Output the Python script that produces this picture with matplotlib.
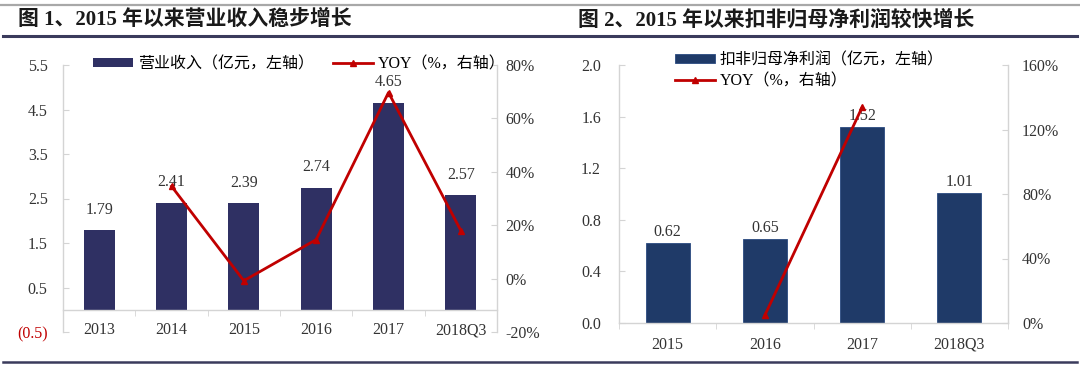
import numpy as np
import matplotlib
matplotlib.use("Agg")
import matplotlib.pyplot as plt
from matplotlib.lines import Line2D

plt.rcParams["font.family"] = ["Liberation Serif", "Noto Sans CJK SC"]

# 图 1 数据
years1 = ["2013", "2014", "2015", "2016", "2017", "2018Q3"]
revenue = [1.79, 2.41, 2.39, 2.74, 4.65, 2.57]
rev_yoy = [np.nan, 34.6, -0.8, 14.6, 69.7, 18.0]

# 图 2 数据
years2 = ["2015", "2016", "2017", "2018Q3"]
profit = [0.62, 0.65, 1.52, 1.01]
profit_yoy = [np.nan, 4.8, 133.8, np.nan]

title1 = "图 1、2015 年以来营业收入稳步增长"
title2 = "图 2、2015 年以来扣非归母净利润较快增长"

BAR1 = "#2f3063"
BAR2 = "#1f3a68"
RED = "#c00000"
SPINE = "#d4d4d4"
TXT = "#333333"
FS = 11.5
W, H = 1080, 366

fig = plt.figure(figsize=(10.8, 3.66), dpi=100)

# 装饰线和标题
fig.add_artist(Line2D([0, 1], [1 - 5 / H] * 2, color="#a8a8a8", lw=1.6))
fig.add_artist(Line2D([0.003, 0.997], [1 - 36 / H] * 2, color="#3a3b5c", lw=2.2))
fig.add_artist(Line2D([0.003, 0.997], [1 - 362 / H] * 2, color="#3a3b5c", lw=1.8))
fig.text(18 / W, 1 - 20 / H, title1, fontsize=15, fontweight="bold",
         va="center", color="#1a1a1a")
fig.text(578 / W, 1 - 20 / H, title2, fontsize=15, fontweight="bold",
         va="center", color="#1a1a1a")


def style(ax, tw, pad_l, pad_r):
    for s in ["top", "right"]:
        ax.spines[s].set_visible(False)
    for s in ["top", "left", "bottom"]:
        tw.spines[s].set_visible(False)
    for a, s in [(ax, "left"), (ax, "bottom"), (tw, "right")]:
        a.spines[s].set_color(SPINE)
        a.spines[s].set_linewidth(1)
    ax.tick_params(axis="y", direction="in", length=4, color=SPINE,
                   labelsize=FS, labelcolor=TXT, pad=pad_l)
    tw.tick_params(axis="y", direction="in", length=4, color=SPINE,
                   labelsize=FS, labelcolor=TXT, pad=pad_r)
    ax.tick_params(axis="x", which="major", length=0, labelsize=FS,
                   labelcolor=TXT)
    ax.tick_params(axis="x", which="minor", direction="out", length=4,
                   color=SPINE)


# ---- 图 1 ----
ax1 = fig.add_axes([63 / W, 1 - 332 / H, (497 - 63) / W, (332 - 65) / H])
tw1 = ax1.twinx()
x1 = np.arange(len(years1))
ax1.bar(x1, revenue, width=0.43, color=BAR1, label="营业收入（亿元，左轴）",
        zorder=2)
for xi, v in zip(x1, revenue):
    ax1.annotate(f"{v:.2f}", (xi, v), xytext=(0, 9), textcoords="offset points",
                 ha="center", va="bottom", fontsize=FS, color=TXT)
tw1.plot(x1, rev_yoy, color=RED, lw=2, marker="^", ms=4,
         label="YOY（%，右轴）", zorder=3)
ax1.set_xlim(-0.5, len(years1) - 0.5)
ax1.set_ylim(-0.5, 5.5)
tw1.set_ylim(-20, 80)
yt1 = np.arange(-0.5, 5.6, 1.0)
ax1.set_yticks(yt1)
ax1.set_yticklabels([f"({abs(v):.1f})" if v < 0 else f"{v:.1f}" for v in yt1])
tw1.set_yticks(np.arange(-20, 81, 20))
tw1.set_yticklabels([f"{v}%" for v in range(-20, 81, 20)])
ax1.set_xticks(x1)
ax1.set_xticklabels(years1)
ax1.set_xticks(np.arange(-0.5, len(years1)), minor=True)
ax1.spines["bottom"].set_position(("data", 0))
style(ax1, tw1, 11, 6)
ax1.tick_params(axis="x", which="major", pad=9)
ax1.get_yticklabels()[0].set_color(RED)
h1, l1 = ax1.get_legend_handles_labels()
h2, l2 = tw1.get_legend_handles_labels()
fig.legend(h1 + h2, l1 + l2, loc="center left",
           bbox_to_anchor=(93 / W, 1 - 64 / H), ncol=2, frameon=False,
           fontsize=FS, borderpad=0, borderaxespad=0, handlelength=2.5,
           handletextpad=0.3, columnspacing=1.2, handleheight=0.5)

# ---- 图 2 ----
ax2 = fig.add_axes([619 / W, 1 - 323 / H, (1008 - 619) / W, (323 - 65) / H])
tw2 = ax2.twinx()
x2 = np.arange(len(years2))
ax2.bar(x2, profit, width=0.45, color=BAR2, edgecolor="#2a4a80", lw=0.6,
        label="扣非归母净利润（亿元，左轴）", zorder=2)
for xi, v in zip(x2, profit):
    ax2.annotate(f"{v:.2f}", (xi, v), xytext=(0, 2), textcoords="offset points",
                 ha="center", va="bottom", fontsize=FS, color=TXT)
tw2.plot(x2, profit_yoy, color=RED, lw=2, marker="^", ms=4,
         label="YOY（%，右轴）", zorder=3)
ax2.set_xlim(-0.5, len(years2) - 0.5)
ax2.set_ylim(0, 2.0)
tw2.set_ylim(0, 160)
ax2.set_yticks(np.arange(0, 2.01, 0.4))
ax2.set_yticklabels([f"{v:.1f}" for v in np.arange(0, 2.01, 0.4)])
tw2.set_yticks(np.arange(0, 161, 40))
tw2.set_yticklabels([f"{v}%" for v in range(0, 161, 40)])
ax2.set_xticks(x2)
ax2.set_xticklabels(years2)
ax2.set_xticks(np.arange(-0.5, len(years2)), minor=True)
style(ax2, tw2, 13, 10)
ax2.tick_params(axis="x", which="major", pad=10)
h1, l1 = ax2.get_legend_handles_labels()
h2, l2 = tw2.get_legend_handles_labels()
fig.legend(h1 + h2, l1 + l2, loc="center left",
           bbox_to_anchor=(675 / W, 1 - 71 / H), ncol=1, frameon=False,
           fontsize=FS, borderpad=0, borderaxespad=0, handlelength=2.5,
           handletextpad=0.3, labelspacing=0.3, handleheight=0.5)

fig.savefig("out.png", dpi=100)
